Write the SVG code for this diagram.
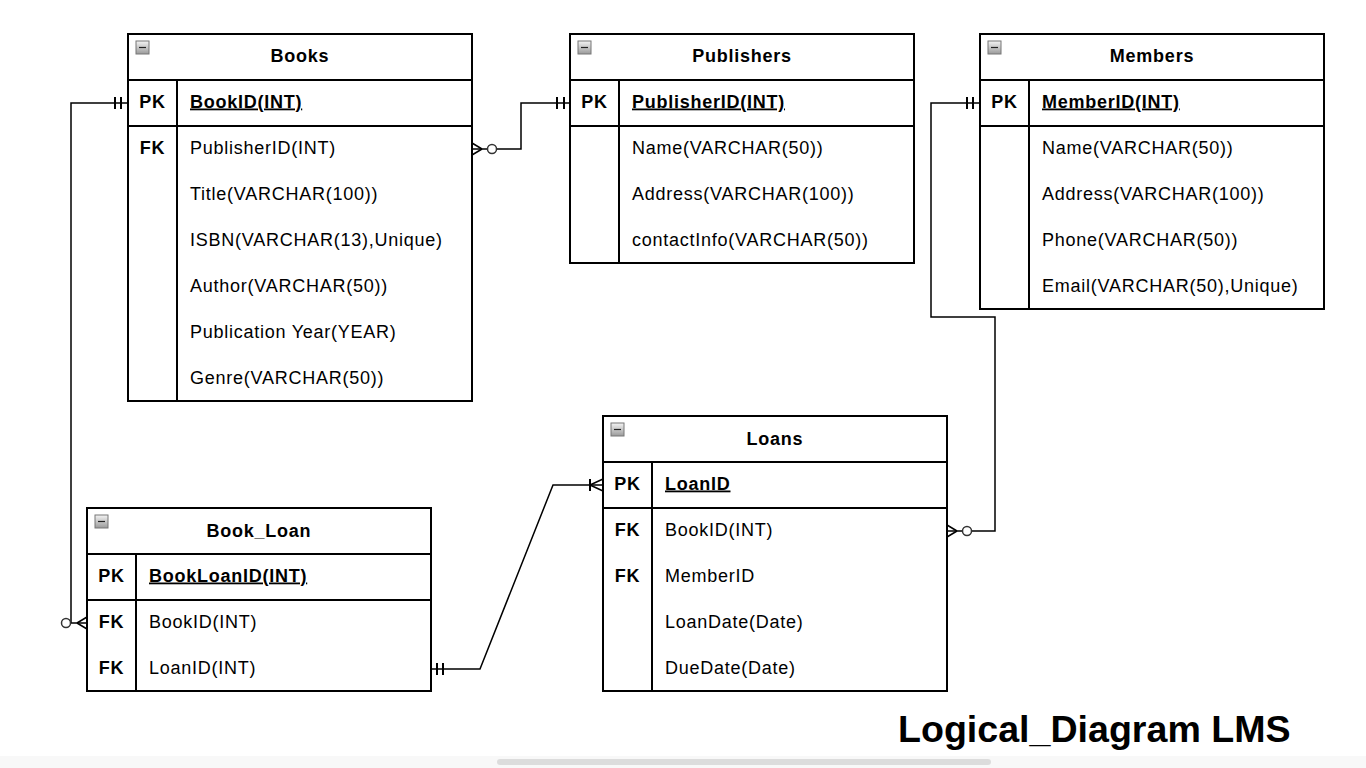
<svg xmlns="http://www.w3.org/2000/svg" width="1366" height="768" viewBox="0 0 1366 768">
<style>
.box{fill:#fff;stroke:#000;stroke-width:2}
.ln{stroke:#000;stroke-width:2;fill:none}
.ttl{font-family:"Liberation Sans",Arial,sans-serif;font-size:18px;font-weight:bold;letter-spacing:0.75px;text-anchor:middle;fill:#000}
.key{font-family:"Liberation Sans",Arial,sans-serif;font-size:18px;font-weight:bold;letter-spacing:0.75px;text-anchor:middle;fill:#000}
.fld{font-family:"Liberation Sans",Arial,sans-serif;font-size:18px;letter-spacing:0.75px;fill:#000}
.pk{font-weight:bold;text-decoration:underline}
.conn{stroke:#000;stroke-width:1.5;fill:none}
.bar{stroke:#000;stroke-width:2;fill:none}
.circ{fill:#fff;stroke:#333;stroke-width:1.5}
.main{font-family:"Liberation Sans",Arial,sans-serif;font-size:37.6px;font-weight:bold;fill:#000}
</style>
<defs>
<linearGradient id="ig" x1="0" y1="0" x2="0" y2="1">
<stop offset="0" stop-color="#f4f4f4"/>
<stop offset="1" stop-color="#9a9a9a"/>
</linearGradient>
<g id="icon">
<rect x="0" y="0" width="13" height="13" fill="url(#ig)" stroke="#777" stroke-width="1"/>
<line x1="3" y1="6.5" x2="10" y2="6.5" stroke="#222" stroke-width="1.2"/>
</g>
</defs>
<rect width="1366" height="768" fill="#fff"/>

<g id="connectors">
<!-- Books PK to Book_Loan FK BookID -->
<path class="conn" d="M128,103 H71 V623 H87"/>
<path class="bar" d="M115,97 V109 M121,97 V109"/>
<path class="conn" d="M77,623 L87,617 M77,623 L87,629"/>
<circle class="circ" cx="66" cy="623" r="4.5"/>
<!-- Books FK PublisherID to Publishers PK -->
<path class="conn" d="M472,149 H521 V103 H570"/>
<path class="bar" d="M557,97 V109 M564,97 V109"/>
<path class="conn" d="M482,149 L472,143 M482,149 L472,155"/>
<circle class="circ" cx="492" cy="149" r="4.5"/>
<!-- Members PK to Loans -->
<path class="conn" d="M980,103 H931 V317 H995 V531 H947"/>
<path class="bar" d="M967,97 V109 M973,97 V109"/>
<path class="conn" d="M957,531 L947,525 M957,531 L947,537"/>
<circle class="circ" cx="967" cy="531" r="4.5"/>
<!-- Book_Loan LoanID to Loans PK -->
<path class="conn" d="M431,669 H480 L553,485 H603"/>
<path class="bar" d="M437,663 V675 M443,663 V675"/>
<path class="bar" d="M590,479 V491"/>
<path class="conn" d="M590,485 L603,479 M590,485 L603,491"/>
</g>

<g id="books">
<rect class="box" x="128" y="34" width="344" height="367"/>
<use href="#icon" x="136" y="41"/>
<path class="ln" d="M128,80 H472 M128,126 H472 M177,80 V401"/>
<text class="ttl" x="300" y="62">Books</text>
<text class="key" x="152.5" y="107.5">PK</text>
<text class="fld pk" x="190" y="107.5">BookID(INT)</text>
<text class="key" x="152.5" y="153.5">FK</text>
<text class="fld" x="190" y="153.5">PublisherID(INT)</text>
<text class="fld" x="190" y="199.5">Title(VARCHAR(100))</text>
<text class="fld" x="190" y="245.5">ISBN(VARCHAR(13),Unique)</text>
<text class="fld" x="190" y="291.5">Author(VARCHAR(50))</text>
<text class="fld" x="190" y="337.5">Publication Year(YEAR)</text>
<text class="fld" x="190" y="383.5">Genre(VARCHAR(50))</text>
</g>

<g id="publishers">
<rect class="box" x="570" y="34" width="344" height="229"/>
<use href="#icon" x="578" y="41"/>
<path class="ln" d="M570,80 H914 M570,126 H914 M619,80 V263"/>
<text class="ttl" x="742" y="62">Publishers</text>
<text class="key" x="594.5" y="107.5">PK</text>
<text class="fld pk" x="632" y="107.5">PublisherID(INT)</text>
<text class="fld" x="632" y="153.5">Name(VARCHAR(50))</text>
<text class="fld" x="632" y="199.5">Address(VARCHAR(100))</text>
<text class="fld" x="632" y="245.5">contactInfo(VARCHAR(50))</text>
</g>

<g id="members">
<rect class="box" x="980" y="34" width="344" height="275"/>
<use href="#icon" x="988" y="41"/>
<path class="ln" d="M980,80 H1324 M980,126 H1324 M1029,80 V309"/>
<text class="ttl" x="1152" y="62">Members</text>
<text class="key" x="1004.5" y="107.5">PK</text>
<text class="fld pk" x="1042" y="107.5">MemberID(INT)</text>
<text class="fld" x="1042" y="153.5">Name(VARCHAR(50))</text>
<text class="fld" x="1042" y="199.5">Address(VARCHAR(100))</text>
<text class="fld" x="1042" y="245.5">Phone(VARCHAR(50))</text>
<text class="fld" x="1042" y="291.5">Email(VARCHAR(50),Unique)</text>
</g>

<g id="loans">
<rect class="box" x="603" y="416" width="344" height="275"/>
<use href="#icon" x="611" y="423"/>
<path class="ln" d="M603,462 H947 M603,508 H947 M652,462 V691"/>
<text class="ttl" x="775" y="444.5">Loans</text>
<text class="key" x="627.5" y="489.5">PK</text>
<text class="fld pk" x="665" y="489.5">LoanID</text>
<text class="key" x="627.5" y="535.5">FK</text>
<text class="fld" x="665" y="535.5">BookID(INT)</text>
<text class="key" x="627.5" y="581.5">FK</text>
<text class="fld" x="665" y="581.5">MemberID</text>
<text class="fld" x="665" y="627.5">LoanDate(Date)</text>
<text class="fld" x="665" y="673.5">DueDate(Date)</text>
</g>

<g id="book_loan">
<rect class="box" x="87" y="508" width="344" height="183"/>
<use href="#icon" x="95" y="515"/>
<path class="ln" d="M87,554 H431 M87,600 H431 M136,554 V691"/>
<text class="ttl" x="259" y="536.5">Book_Loan</text>
<text class="key" x="111.5" y="581.5">PK</text>
<text class="fld pk" x="149" y="581.5">BookLoanID(INT)</text>
<text class="key" x="111.5" y="627.5">FK</text>
<text class="fld" x="149" y="627.5">BookID(INT)</text>
<text class="key" x="111.5" y="673.5">FK</text>
<text class="fld" x="149" y="673.5">LoanID(INT)</text>
</g>

<text class="main" x="898" y="742">Logical_Diagram LMS</text>

<g id="scrollbar">
<rect x="0" y="756" width="1366" height="12" fill="#f8f8f8"/>
<rect x="497" y="759" width="494" height="6" rx="3" fill="#dcdcdc"/>
</g>
</svg>
